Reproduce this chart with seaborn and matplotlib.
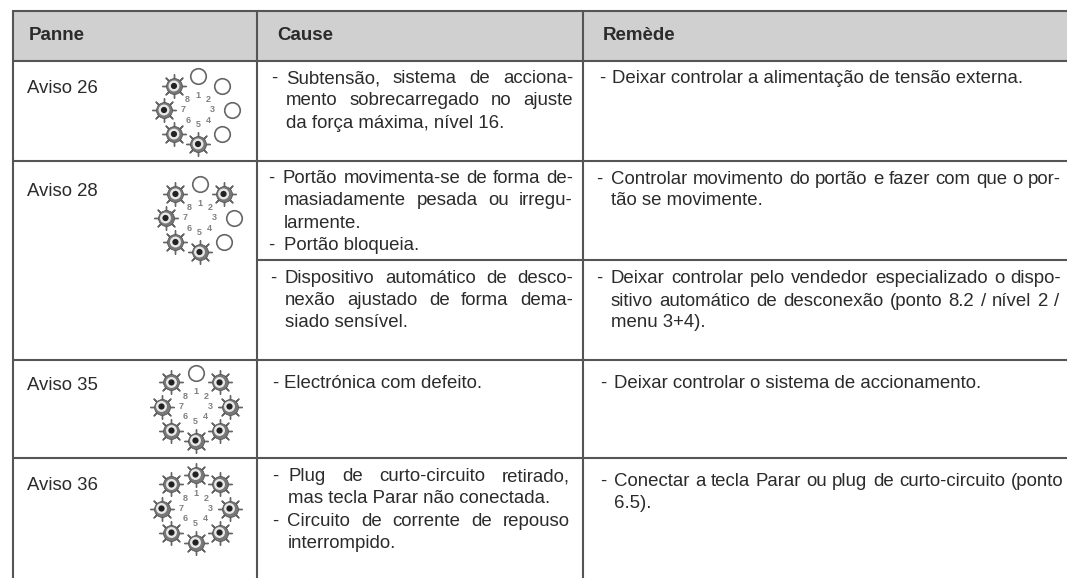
import numpy as np
import pandas as pd
import seaborn as sns
import matplotlib.pyplot as plt

# table text: (x, baseline y, string, right edge if the line is justified)
headers = [(28.5, 39.5, "Panne"), (277, 40.5, "Cause"), (603, 40.5, "Remède")]
faults = [(27, 93, "Aviso 26"), (27, 196, "Aviso 28"), (27, 390, "Aviso 35"), (27, 490, "Aviso 36")]
cause_lines = [
    (271, 83, "-", None),
    (286, 83, "Subtensão, sistema de acciona-", 573),
    (286, 105, "mento sobrecarregado no ajuste", 573),
    (286, 128, "da força máxima, nível 16.", None),
    (268, 183, "-", None),
    (283, 183, "Portão movimenta-se de forma de-", 573),
    (284, 205, "masiadamente pesada ou irregu-", 573),
    (284, 228, "larmente.", None),
    (268, 250, "-", None),
    (284, 250, "Portão bloqueia.", None),
    (270, 283, "-", None),
    (285, 283, "Dispositivo automático de desco-", 573),
    (285, 305, "nexão ajustado de forma dema-", 573),
    (285, 327, "siado sensível.", None),
    (272, 388, "-", None),
    (284, 388, "Electrónica com defeito.", None),
    (272, 481, "-", None),
    (288, 481, "Plug de curto-circuito retirado,", 570),
    (288, 503, "mas tecla Parar não conectada.", None),
    (272, 526, "-", None),
    (287, 526, "Circuito de corrente de repouso", 570),
    (288, 548, "interrompido.", None),
]
remedy_lines = [
    (599, 83, "-", None),
    (612, 83, "Deixar controlar a alimentação de tensão externa.", None),
    (596, 184, "-", None),
    (611, 184, "Controlar movimento do portão e fazer com que o por-", 1061),
    (611, 205, "tão se movimente.", None),
    (596, 283, "-", None),
    (611, 283, "Deixar controlar pelo vendedor especializado o dispo-", 1061),
    (611, 306, "sitivo automático de desconexão (ponto 8.2 / nível 2 /", 1059),
    (611, 327, "menu 3+4).", None),
    (600, 388, "-", None),
    (614, 388, "Deixar controlar o sistema de accionamento.", None),
    (600, 486, "-", None),
    (614, 486, "Conectar a tecla Parar ou plug de curto-circuito (ponto", 1063),
    (614, 508, "6.5).", None),
]

# ring of 8 leds per fault, clockwise from the top, 1 = lit
ring_x = [198, 199.5, 195.5, 195.5]
ring_y = [110, 218, 406.5, 508.5]
led_states = [
    [0, 0, 0, 0, 1, 1, 1, 1],
    [0, 1, 0, 0, 1, 1, 1, 1],
    [0, 1, 1, 1, 1, 1, 1, 1],
    [1, 1, 1, 1, 1, 1, 1, 1],
]

h_rules = [(12, 1067, 10.7), (12, 1067, 61), (12, 1067, 160.5), (257, 1067, 259.5), (12, 1067, 359.5), (12, 1067, 457.5)]
v_rules = [12.7, 257, 583]

rows = []
for x0, y0, states in zip(ring_x, ring_y, led_states):
    for i, s in enumerate(states):
        a = np.deg2rad(45 * i)
        rows.append({"x": x0 + 34 * np.sin(a), "y": y0 - 34 * np.cos(a), "lit": s})
leds = pd.DataFrame(rows)

sns.set_style("white")
plt.rcParams["font.family"] = ["Liberation Sans", "DejaVu Sans"]
ink = "#2b2b2b"
rule = "#555555"

fig, ax = plt.subplots(figsize=(10.67, 5.78), dpi=100)
fig.subplots_adjust(0, 0, 1, 1)
ax.set_xlim(0, 1067)
ax.set_ylim(578, 0)
ax.axis("off")

ax.fill_between([12, 1067], 10.7, 61, color="#d0d0d0", lw=0, zorder=0)
for x0, x1, y in h_rules:
    ax.plot([x0, x1], [y, y], color=rule, lw=1.5, solid_capstyle="butt", zorder=1)
for x in v_rules:
    ax.plot([x, x], [10.7, 578], color=rule, lw=1.5, solid_capstyle="butt", zorder=1)

lit = leds[leds.lit == 1]
off = leds[leds.lit == 0]
sns.scatterplot(data=off, x="x", y="y", s=125, marker="o", color="white", edgecolor="#666666", linewidth=1.2, ax=ax, zorder=3)
sns.scatterplot(data=lit, x="x", y="y", s=290, marker=(8, 2, 0), color="#666666", linewidth=1.0, ax=ax, zorder=3)
sns.scatterplot(data=lit, x="x", y="y", s=130, marker="o", color="#777777", edgecolor="#555555", linewidth=0.6, ax=ax, zorder=4)
sns.scatterplot(data=lit, x="x", y="y", s=62, marker="o", color="#e8e8e8", edgecolor="none", ax=ax, zorder=5)
sns.scatterplot(data=lit, x="x", y="y", s=20, marker="o", color="#222222", edgecolor="none", ax=ax, zorder=6)
ax.set_xlabel("")
ax.set_ylabel("")

for x0, y0 in zip(ring_x, ring_y):
    for i in range(8):
        a = np.deg2rad(45 * i)
        ax.text(x0 + 14.5 * np.sin(a), y0 - 14.5 * np.cos(a), str(i + 1), fontsize=6.5, color="#808080",
                ha="center", va="center", fontweight="bold")


def put_line(x, y, s, right, size=13.45):
    if right is None:
        ax.text(x, y, s, fontsize=size, color=ink, va="baseline")
        return
    # justified line: spread the words out to the right edge
    words = [ax.text(x, y, w, fontsize=size, color=ink, va="baseline") for w in s.split(" ")]
    rend = fig.canvas.get_renderer()
    widths = [w.get_window_extent(rend).width for w in words]
    gap = (right - x - sum(widths)) / (len(words) - 1)
    for w, width in zip(words, widths):
        w.set_x(x)
        x += width + gap


for x, y, s in headers:
    ax.text(x, y, s, fontsize=13.5, fontweight="bold", color=ink, va="baseline")
for x, y, s in faults:
    put_line(x, y, s, None)
for x, y, s, right in cause_lines + remedy_lines:
    put_line(x, y, s, right)

fig.savefig("out.png", dpi=100)
